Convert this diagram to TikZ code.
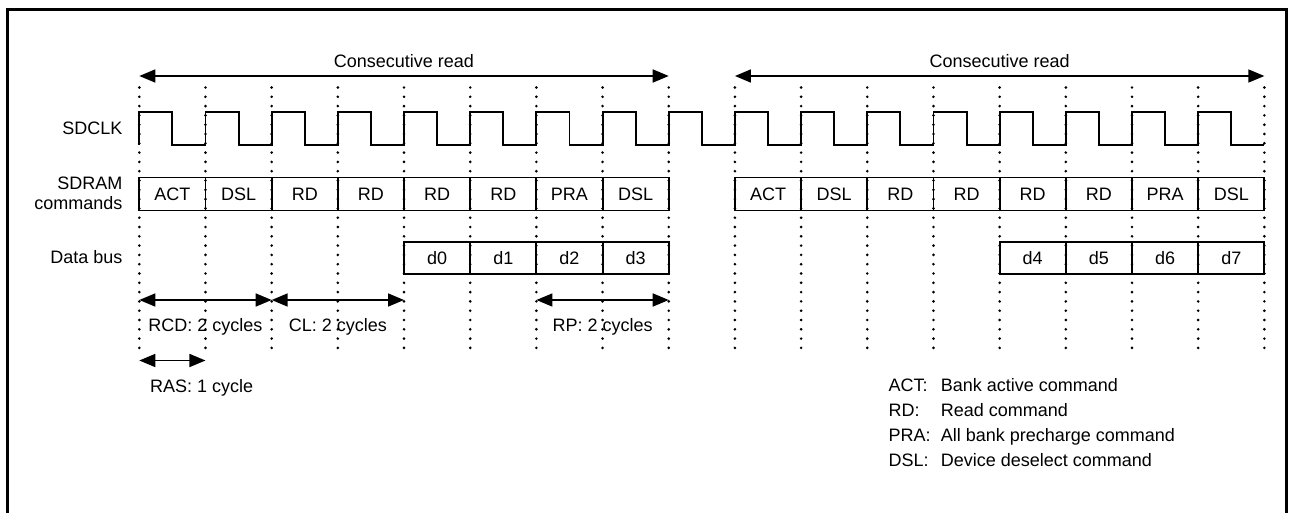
\documentclass[tikz,border=0pt]{standalone}
\usepackage{fontspec}
\setmainfont{Liberation Sans}
\usetikzlibrary{arrows.meta}
\begin{document}
\begin{tikzpicture}[x=1pt,y=-1pt,
  txt/.style={font=\fontsize{18}{20.5}\selectfont, inner sep=0pt},
  wave/.style={line width=1.9pt, line join=miter},
  cellbox/.style={draw, line width=1.9pt, minimum width=66.18pt, minimum height=33pt, inner sep=0pt, font=\fontsize{18}{20.5}\selectfont},
  gridline/.style={line width=2.9pt, line cap=round, dash pattern=on 0pt off 9.3pt},
  dimarrow/.style={line width=1.6pt, {Triangle[length=16pt,width=13pt]}-{Triangle[length=16pt,width=13pt]}},
  frameline/.style={line width=3pt}]
\useasboundingbox (0,0) rectangle (1292,513);
% outer frame
\draw[frameline] (7.5,514) -- (7.5,9.5) -- (1286.5,9.5) -- (1286.5,514);
% column coordinates
\foreach \i in {0,...,17} {
  \coordinate (c\i) at ({139.3+66.18*\i},0);
}
% command boxes
\foreach \t [count=\i from 0] in {ACT,DSL,RD,RD,RD,RD,PRA,DSL} {
  \node[cellbox] (cmdA\i) at ({139.3+66.18*(\i+0.5)},194) {\t};
}
\foreach \t [count=\i from 9] in {ACT,DSL,RD,RD,RD,RD,PRA,DSL} {
  \node[cellbox] (cmdB\i) at ({139.3+66.18*(\i+0.5)},194) {\t};
}
% data boxes
\foreach \t [count=\i from 4] in {d0,d1,d2,d3} {
  \node[cellbox, minimum height=32.3pt] (datA\i) at ({139.3+66.18*(\i+0.5)},257.9) {\t};
}
\foreach \t [count=\i from 13] in {d4,d5,d6,d7} {
  \node[cellbox, minimum height=32.3pt] (datB\i) at ({139.3+66.18*(\i+0.5)},257.9) {\t};
}
% clock
\draw[wave] (139.3,145) \foreach \i in {0,...,16} {
  -- ({139.3+66.18*\i},112) -- ({139.3+66.18*\i+33.09},112)
  -- ({139.3+66.18*\i+33.09},145) -- ({139.3+66.18*(\i+1)},145) };
% grid lines
\foreach \i in {0,...,17} {
  \draw[gridline] (c\i |- 0,87.5) -- (c\i |- 0,348);
}
% signal labels
\node[txt, anchor=base east] (lclk) at (122.5,134.8) {SDCLK};
\node[txt, anchor=east, align=right] (lcmd) at (122.5,193.3) {SDRAM\\commands};
\node[txt, anchor=base east] (ldat) at (122.5,263.5) {Data bus};
% consecutive read arrows
\draw[dimarrow] (c0 |- 0,76) -- (c8 |- 0,76);
\draw[dimarrow] (c9 |- 0,76) -- (c17 |- 0,76);
\node[txt, anchor=base] (cr1) at (404,68) {Consecutive read};
\node[txt, anchor=base] (cr2) at (999.6,68) {Consecutive read};
% timing arrows
\draw[dimarrow] (c0 |- 0,300) -- (c2 |- 0,300);
\draw[dimarrow] (c2 |- 0,300) -- (c4 |- 0,300);
\draw[dimarrow] (c6 |- 0,300) -- (c8 |- 0,300);
\draw[dimarrow] (c0 |- 0,360.5) -- (c1 |- 0,360.5);
\node[txt, anchor=base] (rcd) at (c1 |- 0,331.5) {RCD: 2 cycles};
\node[txt, anchor=base] (cl) at (c3 |- 0,331.5) {CL: 2 cycles};
\node[txt, anchor=base] (rp) at (c7 |- 0,331.5) {RP: 2 cycles};
\node[txt, anchor=base] (ras) at (201.7,392.5) {RAS: 1 cycle};
% legend
\node[txt, anchor=base west] (k1) at (888.3,391.5) {ACT:};
\node[txt, anchor=base west] (v1) at (940.7,391.5) {Bank active command};
\node[txt, anchor=base west] (k2) at (888.3,416.5) {RD:};
\node[txt, anchor=base west] (v2) at (940.7,416.5) {Read command};
\node[txt, anchor=base west] (k3) at (888.3,441.5) {PRA:};
\node[txt, anchor=base west] (v3) at (940.7,441.5) {All bank precharge command};
\node[txt, anchor=base west] (k4) at (888.3,466.5) {DSL:};
\node[txt, anchor=base west] (v4) at (940.7,466.5) {Device deselect command};
\end{tikzpicture}
\end{document}
